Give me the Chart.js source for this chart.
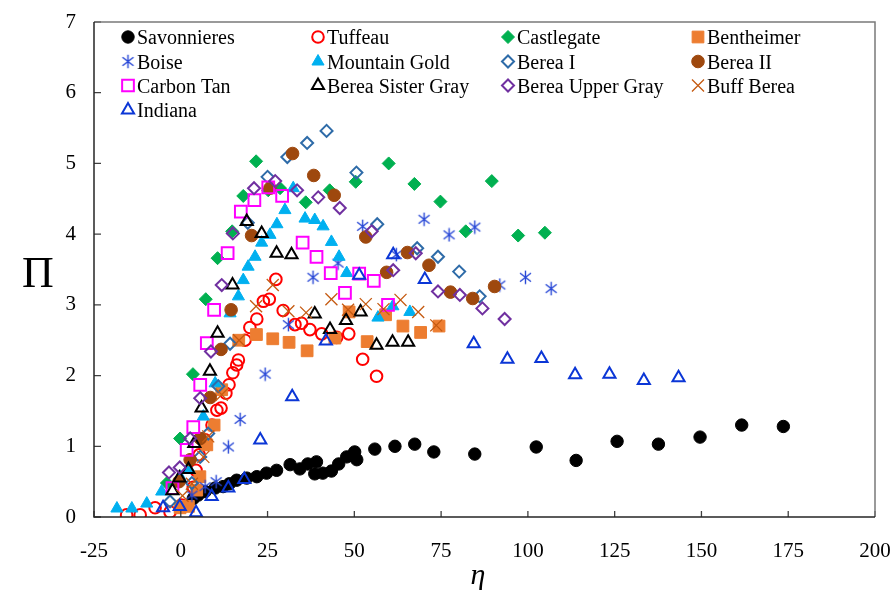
<!DOCTYPE html>
<html>
<head>
<meta charset="utf-8">
<script src="https://cdn.jsdelivr.net/npm/chart.js@4/dist/chart.umd.min.js"></script>
<style>
  html, body { margin: 0; padding: 0; background: #ffffff; }
  canvas { display: block; }
</style>
</head>
<body>
<canvas id="chart" width="896" height="599"></canvas>
<script>
// Axis ticks
const xTicks = [-25, 0, 25, 50, 75, 100, 125, 150, 175, 200];
const yTicks = [0, 1, 2, 3, 4, 5, 6, 7];

// Each series: [eta, Pi] pairs
const savonnieres = [[3.6,0.26],[5.0,0.31],[7.0,0.36],[9.9,0.41],[12.2,0.43],[14.0,0.47],[16.1,0.52],[19.0,0.55],[21.9,0.57],[24.7,0.62],[27.6,0.66],[31.5,0.74],[34.3,0.68],[36.6,0.75],[39.1,0.78],[38.6,0.61],[40.9,0.62],[43.4,0.65],[45.5,0.75],[47.8,0.85],[50.1,0.92],[50.7,0.81],[55.9,0.96],[61.7,1.00],[67.4,1.03],[72.9,0.92],[84.7,0.89],[102.4,0.99],[113.9,0.80],[125.7,1.07],[137.6,1.03],[149.6,1.13],[161.6,1.30],[173.6,1.28]];
const tuffeau = [[-15.6,0.03],[-11.7,0.03],[-7.4,0.13],[-3.1,0.07],[0.2,0.17],[3.6,0.42],[4.4,0.66],[5.3,0.88],[7.0,1.09],[9.0,1.30],[10.4,1.51],[11.6,1.54],[13.0,1.75],[13.9,1.87],[15.0,2.04],[16.1,2.15],[16.6,2.22],[18.5,2.50],[19.9,2.68],[21.9,2.80],[23.8,3.05],[25.5,3.08],[27.4,3.36],[29.5,2.92],[32.9,2.72],[34.8,2.74],[37.2,2.65],[40.6,2.59],[44.9,2.54],[48.4,2.59],[52.4,2.23],[56.4,1.99]];
const castlegate = [[-4.0,0.48],[-0.2,1.11],[3.5,2.02],[7.2,3.08],[10.6,3.66],[14.8,4.04],[18.0,4.54],[21.7,5.03],[25.2,4.62],[28.6,4.65],[36.0,4.45],[42.9,4.62],[50.4,4.74],[59.9,5.00],[67.3,4.71],[74.8,4.46],[82.1,4.04],[89.6,4.75],[97.2,3.98],[104.9,4.02]];
const bentheimer = [[-0.2,0.13],[2.2,0.15],[4.6,0.38],[5.5,0.57],[7.5,1.02],[9.6,1.30],[11.8,1.80],[16.7,2.50],[21.8,2.58],[26.5,2.52],[31.2,2.47],[36.4,2.35],[44.4,2.53],[48.5,2.90],[53.7,2.48],[59.0,2.86],[64.0,2.70],[69.1,2.61],[74.4,2.70]];
const boise = [[3.2,0.31],[7.0,0.43],[10.2,0.50],[13.7,0.99],[17.1,1.38],[24.3,2.02],[31.0,2.72],[38.1,3.39],[45.3,3.59],[52.4,4.11],[62.1,3.71],[70.1,4.21],[77.3,3.99],[84.7,4.10],[91.9,3.28],[99.3,3.39],[106.7,3.23]];
const mountainGold = [[-18.4,0.12],[-14.1,0.12],[-9.8,0.19],[-5.5,0.36],[-0.2,0.57],[2.2,0.69],[6.5,1.42],[9.9,1.89],[14.2,2.88],[16.6,3.12],[18.0,3.35],[19.4,3.54],[21.4,3.68],[23.3,3.88],[25.7,3.99],[27.7,4.14],[30.0,4.34],[32.4,4.65],[35.8,4.22],[38.6,4.20],[41.0,4.11],[43.4,3.89],[45.6,3.68],[47.8,3.45],[56.8,2.82],[61.1,2.98],[66.0,2.90]];
const bereaI = [[-3.1,0.22],[3.2,0.48],[5.6,0.85],[7.9,1.18],[10.8,1.85],[14.2,2.45],[19.3,4.16],[25.0,4.81],[30.7,5.09],[36.4,5.29],[42.0,5.46],[50.6,4.87],[56.6,4.14],[68.1,3.80],[74.1,3.68],[80.2,3.47],[86.1,3.12]];
const bereaII = [[-0.5,0.50],[2.7,0.81],[5.6,1.11],[8.5,1.69],[11.6,2.37],[14.5,2.93],[20.4,3.98],[25.7,4.65],[32.2,5.14],[38.3,4.83],[44.2,4.55],[53.3,3.96],[59.3,3.46],[65.3,3.74],[71.5,3.56],[77.7,3.18],[84.1,3.09],[90.4,3.26]];
const carbonTan = [[-2.4,0.41],[1.7,0.95],[3.6,1.27],[5.6,1.87],[7.5,2.46],[9.6,2.93],[13.5,3.73],[17.3,4.32],[21.2,4.48],[25.2,4.66],[29.2,4.54],[35.1,3.88],[39.1,3.68],[43.2,3.45],[47.3,3.17],[51.4,3.44],[55.6,3.34],[59.7,3.00]];
const bereaSisterGray = [[-2.4,0.37],[-0.4,0.55],[2.2,0.67],[3.9,1.04],[6.0,1.54],[8.4,2.06],[10.6,2.60],[14.9,3.28],[19.0,4.18],[23.3,4.01],[27.6,3.73],[31.9,3.71],[38.6,2.87],[43.0,2.65],[47.6,2.78],[51.8,2.90],[56.4,2.43],[61.0,2.47],[65.5,2.47]];
const bereaUpperGray = [[-3.4,0.63],[-0.3,0.70],[2.7,1.11],[5.6,1.68],[8.7,2.34],[11.8,3.28],[15.0,4.01],[21.1,4.65],[27.2,4.75],[33.5,4.62],[39.6,4.52],[45.8,4.37],[55.0,4.04],[61.2,3.49],[67.7,3.73],[74.1,3.19],[80.4,3.14],[86.9,2.95],[93.3,2.80]];
const buffBerea = [[0.5,0.30],[3.2,0.47],[6.5,0.85],[7.9,1.14],[11.8,1.73],[16.8,2.50],[21.7,2.98],[26.5,3.28],[31.0,2.91],[36.1,2.89],[43.4,3.08],[48.2,2.93],[53.3,3.01],[58.4,2.94],[63.3,3.07],[68.4,2.90],[73.6,2.71]];
const indiana = [[-5.1,0.13],[-0.3,0.15],[4.4,0.06],[8.9,0.29],[13.7,0.41],[18.3,0.53],[22.9,1.09],[32.1,1.70],[41.8,2.49],[51.4,3.42],[61.2,3.71],[70.3,3.36],[84.4,2.45],[94.1,2.23],[103.9,2.24],[113.6,2.01],[123.5,2.02],[133.4,1.93],[143.4,1.97]];

// Asterisk marker (vertical bar plus an X)
function makeAsterisk(color) {
  const c = document.createElement('canvas');
  c.width = 15; c.height = 15;
  const g = c.getContext('2d');
  g.strokeStyle = color;
  g.lineWidth = 1.4;
  g.beginPath();
  g.moveTo(7.5, 0.8); g.lineTo(7.5, 14.2);
  g.moveTo(2.0, 3.2); g.lineTo(13.0, 11.8);
  g.moveTo(2.0, 11.8); g.lineTo(13.0, 3.2);
  g.stroke();
  return c;
}

const NONE = 'rgba(0,0,0,0)';
const series = [
  { label: 'Savonnieres',       data: savonnieres,     style: 'circle',   r: 6.2, fill: '#000000', stroke: '#000000', lw: 1 },
  { label: 'Tuffeau',           data: tuffeau,         style: 'circle',   r: 5.8, fill: NONE,      stroke: '#FF0000', lw: 2 },
  { label: 'Castlegate',        data: castlegate,      style: 'rectRot',  r: 6.5, fill: '#00B050', stroke: '#00B050', lw: 1 },
  { label: 'Bentheimer',        data: bentheimer,      style: 'rect',     r: 8.3, fill: '#ED7D31', stroke: '#ED7D31', lw: 1 },
  { label: 'Boise',             data: boise,           style: makeAsterisk('#2747D6'), r: 7, fill: NONE, stroke: '#2747D6', lw: 1.3 },
  { label: 'Mountain Gold',     data: mountainGold,    style: 'triangle', r: 7,   fill: '#00B0F0', stroke: '#00B0F0', lw: 1 },
  { label: 'Berea I',           data: bereaI,          style: 'rectRot',  r: 6,   fill: NONE,      stroke: '#2E6BA8', lw: 2 },
  { label: 'Berea II',          data: bereaII,         style: 'circle',   r: 6.3, fill: '#9E480E', stroke: '#9E480E', lw: 1 },
  { label: 'Carbon Tan',        data: carbonTan,       style: 'rect',     r: 8.3, fill: NONE,      stroke: '#FF00FF', lw: 2 },
  { label: 'Berea Sister Gray', data: bereaSisterGray, style: 'triangle', r: 7,   fill: NONE,      stroke: '#000000', lw: 2 },
  { label: 'Berea Upper Gray',  data: bereaUpperGray,  style: 'rectRot',  r: 6,   fill: NONE,      stroke: '#7030A0', lw: 2 },
  { label: 'Buff Berea',        data: buffBerea,       style: 'crossRot', r: 8.5, fill: NONE,      stroke: '#C55A11', lw: 1.3 },
  { label: 'Indiana',           data: indiana,         style: 'triangle', r: 7,   fill: NONE,      stroke: '#0B36D6', lw: 2 }
];

const datasets = series.map((s, i) => ({
  label: s.label,
  data: s.data.map(([x, y]) => ({ x, y })),
  pointStyle: s.style,
  pointRadius: s.r,
  pointHoverRadius: s.r,
  backgroundColor: s.fill,
  borderColor: s.stroke,
  pointBorderWidth: s.lw,
  borderWidth: s.lw,
  showLine: false,
  order: series.length - i   // later series paint over earlier ones
}));

const SERIF = '"Liberation Serif", "Times New Roman", serif';

// Frame, inward tick marks, axis titles and the four-column legend
const decorations = {
  id: 'decorations',
  afterDatasetsDraw(chart) {
    const { ctx, chartArea: a, scales: { x, y } } = chart;
    ctx.save();

    // inward tick marks
    ctx.strokeStyle = '#404040';
    ctx.lineWidth = 1.3;
    ctx.beginPath();
    xTicks.forEach(v => {
      const px = x.getPixelForValue(v);
      ctx.moveTo(px, a.bottom); ctx.lineTo(px, a.bottom - 6);
    });
    yTicks.forEach(v => {
      const py = y.getPixelForValue(v);
      ctx.moveTo(a.left, py); ctx.lineTo(a.left + 7, py);
    });
    ctx.stroke();

    // plot frame
    ctx.lineWidth = 1.5;
    ctx.strokeStyle = '#7a7a7a';
    ctx.beginPath();
    ctx.moveTo(a.left, a.top); ctx.lineTo(a.right, a.top); ctx.lineTo(a.right, a.bottom);
    ctx.stroke();
    ctx.strokeStyle = '#262626';
    ctx.beginPath();
    ctx.moveTo(a.left, a.top); ctx.lineTo(a.left, a.bottom); ctx.lineTo(a.right, a.bottom);
    ctx.stroke();

    // axis titles
    ctx.fillStyle = '#000000';
    ctx.textAlign = 'center';
    ctx.textBaseline = 'alphabetic';
    ctx.font = '44px ' + SERIF;
    ctx.fillText('\u03A0', 38, 287);
    ctx.font = 'italic 30px ' + SERIF;
    ctx.fillText('\u03B7', 478, 584);

    // legend
    const colText = [137, 327, 517, 707];
    const rowY = [37, 61.5, 85.5, 110];
    ctx.font = '20px ' + SERIF;
    ctx.textAlign = 'left';
    series.forEach((s, i) => {
      const col = i % 4, row = Math.floor(i / 4);
      const tx = colText[col], cy = rowY[row];
      ctx.save();
      ctx.fillStyle = s.fill;
      ctx.strokeStyle = s.stroke;
      ctx.lineWidth = s.lw;
      Chart.helpers.drawPoint(ctx, {
        pointStyle: s.style,
        radius: s.r,
        rotation: 0,
        borderWidth: s.lw
      }, tx - 9, cy);
      ctx.restore();
      ctx.fillStyle = '#000000';
      ctx.fillText(s.label, tx, cy + 7);
    });

    ctx.restore();
  }
};

new Chart(document.getElementById('chart'), {
  type: 'scatter',
  data: { datasets },
  options: {
    responsive: false,
    animation: false,
    events: [],
    devicePixelRatio: 1,
    layout: { padding: { top: 22, right: 21, left: 0, bottom: 0 } },
    plugins: { legend: { display: false }, tooltip: { enabled: false } },
    scales: {
      x: {
        type: 'linear',
        min: -25, max: 200,
        afterBuildTicks: s => { s.ticks = xTicks.map(v => ({ value: v })); },
        afterFit: s => { s.height = 82; s.paddingLeft = 0; s.paddingRight = 0; },
        grid: { display: false },
        border: { display: false },
        ticks: {
          color: '#000000',
          font: { family: SERIF, size: 21 },
          padding: 14,
          maxRotation: 0,
          autoSkip: false
        }
      },
      y: {
        type: 'linear',
        min: 0, max: 7,
        afterBuildTicks: s => { s.ticks = yTicks.map(v => ({ value: v })); },
        afterFit: s => { s.width = 94; s.paddingTop = 0; s.paddingBottom = 0; },
        grid: { display: false },
        border: { display: false },
        ticks: {
          color: '#000000',
          font: { family: SERIF, size: 21 },
          padding: 10,
          autoSkip: false
        }
      }
    }
  },
  plugins: [decorations]
});
</script>
</body>
</html>
